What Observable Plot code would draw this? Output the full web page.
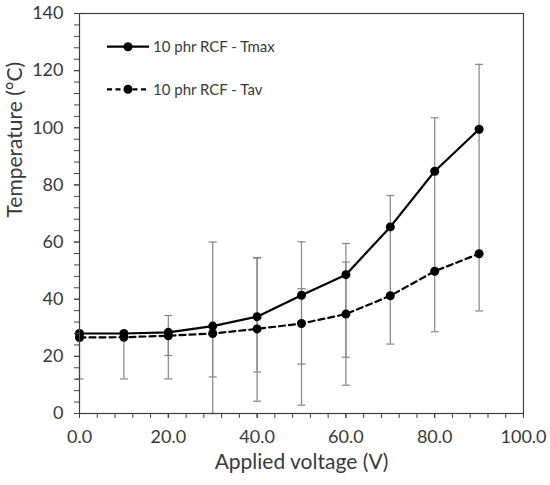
<!DOCTYPE html>
<html>
<head>
<meta charset="utf-8">
<script src="https://cdn.jsdelivr.net/npm/d3@7"></script>
<script src="https://cdn.jsdelivr.net/npm/@observablehq/plot@0.6"></script>
<style>
  html, body { margin: 0; padding: 0; background: white; }
  #wrap { position: relative; width: 550px; height: 485px; font-family: Lato, sans-serif; }
  #legend { position: absolute; left: 0; top: 0; pointer-events: none; }
</style>
</head>
<body>
<div id="wrap"></div>
<script>
// ---- data ----
const voltage = [0, 10, 20, 30, 40, 50, 60, 70, 80, 90];
const tmax = [28.0, 28.0, 28.4, 30.6, 33.9, 41.4, 48.6, 65.3, 84.8, 99.5];
const tav  = [26.6, 26.7, 27.2, 28.0, 29.6, 31.5, 34.8, 41.2, 49.8, 55.9];
// error bar ranges (outer and inner bars), null = not visible
const outerLo = [12.1, 12.1, 12.1, 0.0, 4.3, 2.9, 9.9, 24.3, 28.6, 35.9];
const outerHi = [26.6, 26.7, 27.2, 60.0, 54.6, 60.1, 59.5, 76.3, 103.5, 122.2];
const innerLo = [null, null, 20.3, 12.8, 14.5, 17.3, 19.7, null, null, null];
const innerHi = [null, null, 34.3, 30.6, 54.4, 43.7, 53.0, null, null, null];
const seriesNames = ["10 phr RCF - Tmax", "10 phr RCF - Tav"];
const yTicks = [0, 20, 40, 60, 80, 100, 120, 140];
const xTicks = [0, 20, 40, 60, 80, 100];
const xTitle = "Applied voltage (V)";
const yTitle = "Temperature (°C)";

// ---- tables ----
const tmaxData = voltage.map((v, i) => ({v, t: tmax[i]}));
const tavData = voltage.map((v, i) => ({v, t: tav[i]}));
const bars = [];
const caps = [];
voltage.forEach((v, i) => {
  bars.push({v, lo: outerLo[i], hi: outerHi[i]});
  caps.push({v, val: outerLo[i]}, {v, val: outerHi[i]});
  if (innerLo[i] != null) {
    bars.push({v, lo: innerLo[i], hi: innerHi[i]});
    caps.push({v, val: innerLo[i]}, {v, val: innerHi[i]});
  }
});
const minorY = d3.range(0, 141, 4);
const minorX = d3.range(0, 101, 4);

const hbar = {
  draw(ctx, size) {
    const h = Math.sqrt(size / Math.PI);
    ctx.moveTo(-h, 0); ctx.lineTo(h, 0);
  }
};

const textColor = "#3a3a3a";
const errColor = "#858585";

const chart = Plot.plot({
  width: 550,
  height: 485,
  marginLeft: 79,
  marginRight: 27,
  marginTop: 13,
  marginBottom: 72,
  style: {fontFamily: "Lato, sans-serif", background: "white", color: textColor, overflow: "visible"},
  x: {domain: [0, 100]},
  y: {domain: [0, 140]},
  marks: [
    Plot.ruleX(bars, {x: "v", y1: "lo", y2: "hi", stroke: errColor, strokeWidth: 1.2}),
    Plot.dot(caps, {x: "v", y: "val", symbol: hbar, r: 4, stroke: errColor, strokeWidth: 1.2, fill: "none"}),
    Plot.line(tavData, {x: "v", y: "t", stroke: "black", strokeWidth: 2.2, strokeDasharray: "6,4"}),
    Plot.line(tmaxData, {x: "v", y: "t", stroke: "black", strokeWidth: 2.2}),
    Plot.dot(tavData, {x: "v", y: "t", r: 4.5, fill: "black"}),
    Plot.dot(tmaxData, {x: "v", y: "t", r: 4.5, fill: "black"}),
    Plot.frame({stroke: "#404040", strokeWidth: 1.2}),
    Plot.axisY(minorY, {tickSize: 5, text: null, stroke: "#404040", label: null}),
    Plot.axisY(yTicks, {tickSize: 5, tickPadding: 11, fontSize: 18, fill: textColor, stroke: "#404040", label: null}),
    Plot.axisX(minorX, {tickSize: 5, text: null, stroke: "#404040", label: null}),
    Plot.axisX(xTicks, {tickSize: 5, tickPadding: 12, fontSize: 18, fill: textColor, stroke: "#404040", tickFormat: d => d.toFixed(1), label: null}),
    Plot.text([xTitle], {frameAnchor: "bottom", dy: 55, fontSize: 21, fill: textColor}),
    Plot.text([yTitle], {frameAnchor: "left", dx: -64, dy: 4, rotate: -90, fontSize: 21, fill: textColor})
  ]
});

const wrap = document.getElementById("wrap");
wrap.appendChild(chart);

// ---- legend overlay ----
const ns = "http://www.w3.org/2000/svg";
const leg = document.createElementNS(ns, "svg");
leg.setAttribute("id", "legend");
leg.setAttribute("width", 550);
leg.setAttribute("height", 120);
const rows = [
  {name: seriesNames[0], dash: null, y: 46.7},
  {name: seriesNames[1], dash: "5,3.5", y: 89.3}
];
rows.forEach(r => {
  const ln = document.createElementNS(ns, "line");
  ln.setAttribute("x1", 107); ln.setAttribute("x2", 149);
  ln.setAttribute("y1", r.y); ln.setAttribute("y2", r.y);
  ln.setAttribute("stroke", "black"); ln.setAttribute("stroke-width", 2.2);
  if (r.dash) ln.setAttribute("stroke-dasharray", r.dash);
  leg.appendChild(ln);
  const c = document.createElementNS(ns, "circle");
  c.setAttribute("cx", 128); c.setAttribute("cy", r.y); c.setAttribute("r", 4.5);
  c.setAttribute("fill", "black");
  leg.appendChild(c);
  const t = document.createElementNS(ns, "text");
  t.setAttribute("x", 153); t.setAttribute("y", r.y);
  t.setAttribute("dy", "0.35em");
  t.setAttribute("font-size", 15);
  t.setAttribute("font-family", "Lato, sans-serif");
  t.setAttribute("fill", textColor);
  t.textContent = r.name;
  leg.appendChild(t);
});
wrap.appendChild(leg);
</script>
</body>
</html>
